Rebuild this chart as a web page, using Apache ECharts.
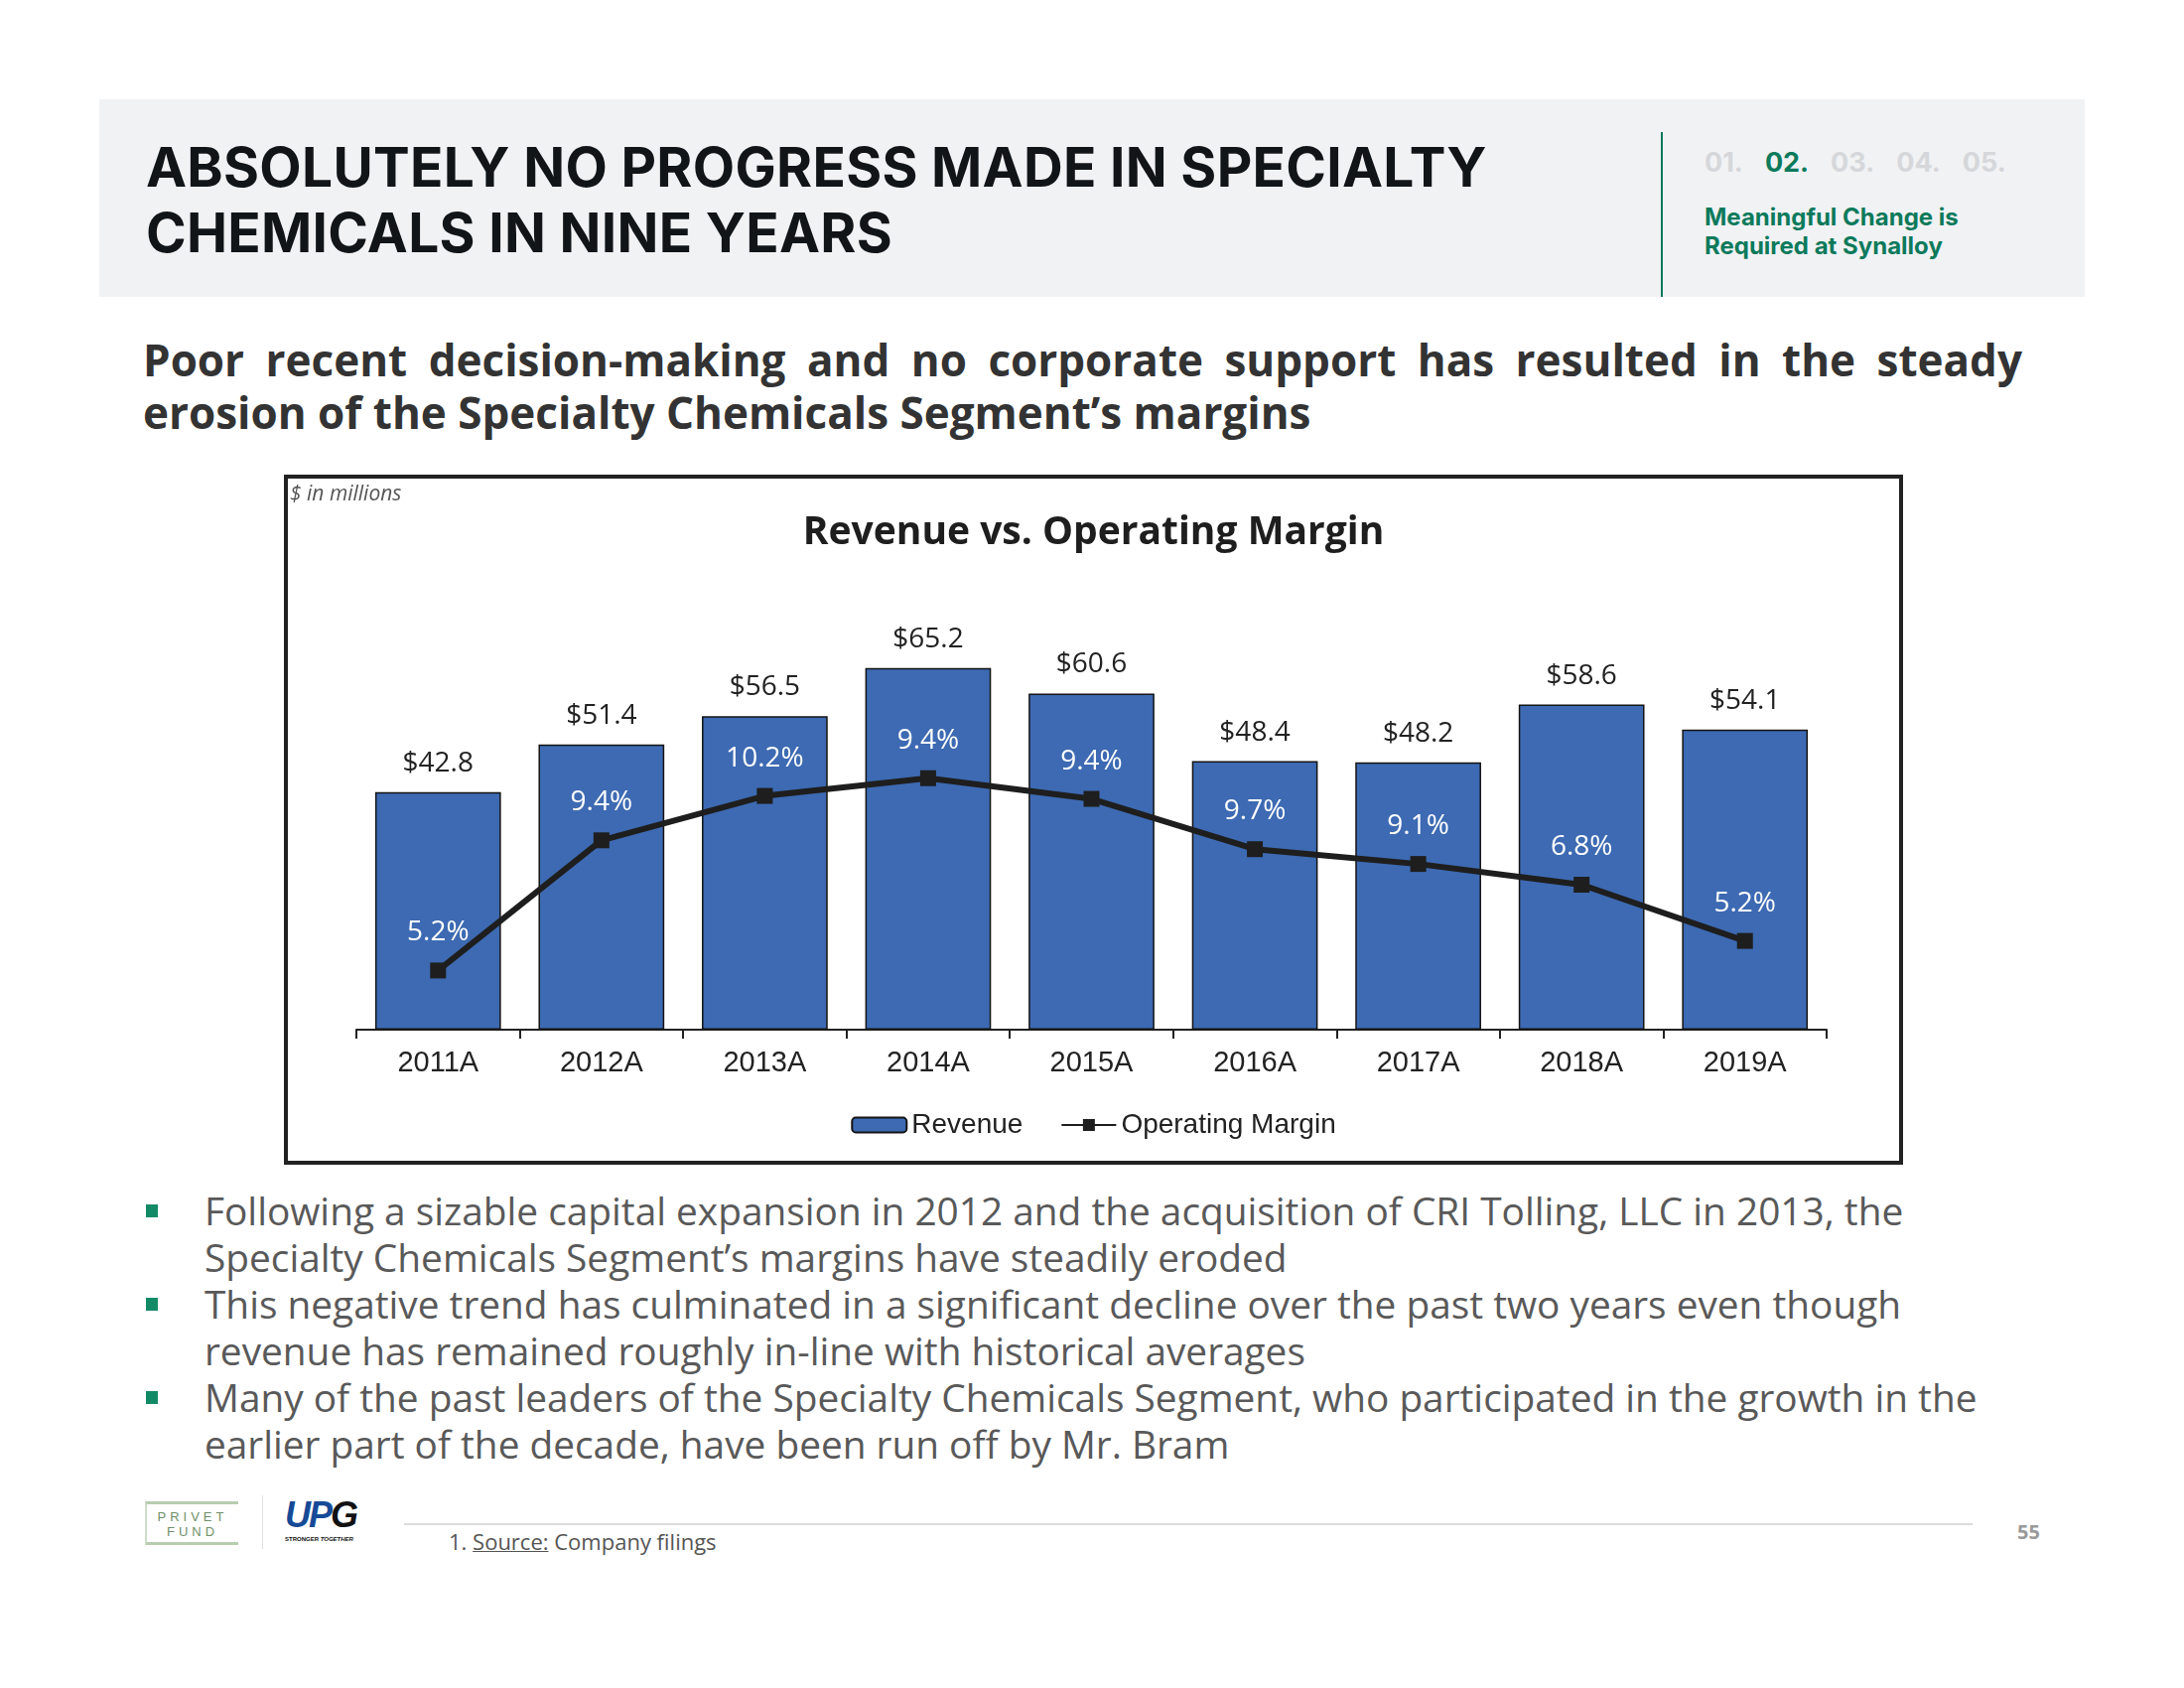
<!DOCTYPE html>
<html>
<head>
<meta charset="utf-8">
<script src="https://cdn.jsdelivr.net/npm/echarts@6/dist/echarts.min.js"></script>
<style>
  html, body { margin: 0; padding: 0; background: #ffffff; }
  body { width: 2200px; height: 1700px; position: relative; overflow: hidden; font-family: "Open Sans", sans-serif; }
  .abs { position: absolute; }
  #header { left: 100px; top: 100px; width: 2000px; height: 199px; background: #f1f2f4; }
  #title { left: 147px; top: 135px; font-family: Inter, "Noto Sans", sans-serif; font-weight: 700; font-size: 55px; line-height: 66px; color: #111518; letter-spacing: 0.3px; white-space: nowrap; }
  #vline { left: 1673px; top: 133px; width: 2px; height: 166px; background: #0c7a5b; }
  #nums { left: 1717px; top: 146px; font-family: Inter, sans-serif; font-weight: 700; font-size: 27px; line-height: 36px; color: #d5d7da; white-space: nowrap; }
  #nums span { margin-right: 22px; }
  #nums .on { color: #0c7a5b; }
  #section { left: 1717px; top: 204px; font-family: Inter, sans-serif; font-weight: 700; font-size: 24px; line-height: 29px; color: #0c7a5b; white-space: nowrap; }
  #subtitle { left: 144px; top: 336px; width: 1893px; font-family: "Open Sans", sans-serif; font-weight: 700; font-size: 44px; line-height: 53px; color: #333333; text-align: justify; text-align-last: left; }
  #chartbox { left: 286px; top: 478px; width: 1623px; height: 687px; border: 4px solid #222222; }
  #chart { width: 1623px; height: 687px; }
  #bullets { left: 147px; top: 1196px; width: 1950px; font-family: "Open Sans", sans-serif; font-size: 38.8px; line-height: 47px; color: #595959; }
  .b { position: relative; padding-left: 59px; white-space: nowrap; }
  .b::before { content: ""; position: absolute; left: 0; top: 17px; width: 12px; height: 13px; background: #138a66; }
  #footline { left: 407px; top: 1534px; width: 1580px; height: 2px; background: #dcdcdc; }
  #source { left: 452px; top: 1538px; font-size: 22px; line-height: 29px; color: #555555; font-family: "Open Sans", sans-serif; }
  #source u { text-decoration-thickness: 1px; }
  #page { left: 2032px; top: 1529px; font-size: 20px; font-weight: 700; color: #9a9a9a; font-family: "Open Sans", sans-serif; }
  #privet { left: 146px; top: 1512px; width: 94px; height: 44px; border-top: 3px solid #b7cdb0; border-bottom: 3px solid #b7cdb0; border-left: 2px solid #cfdccb; box-sizing: border-box; text-align: center; font-family: "Liberation Sans", sans-serif; font-size: 13px; letter-spacing: 4px; line-height: 15px; color: #6f8f68; padding-top: 5px; }
  #logosep { left: 264px; top: 1506px; width: 1px; height: 54px; background: #e0e0e0; }
  #upg { left: 287px; top: 1509px; font-family: "Liberation Sans", sans-serif; font-weight: 700; font-style: italic; font-size: 36px; line-height: 34px; color: #164a97; letter-spacing: -2px; }
  #upg .g { color: #111; }
  #upgsub { left: 287px; top: 1547px; font-family: "Liberation Sans", sans-serif; font-weight: 700; font-size: 6px; color: #111; white-space: nowrap; }
</style>
</head>
<body>
<div id="header" class="abs"></div>
<div id="title" class="abs">ABSOLUTELY NO PROGRESS MADE IN SPECIALTY<br>CHEMICALS IN NINE YEARS</div>
<div id="vline" class="abs"></div>
<div id="nums" class="abs"><span>01.</span><span class="on">02.</span><span>03.</span><span>04.</span><span>05.</span></div>
<div id="section" class="abs">Meaningful Change is<br>Required at Synalloy</div>
<div id="subtitle" class="abs">Poor recent decision-making and no corporate support has resulted in the steady erosion of the Specialty Chemicals Segment’s margins</div>
<div id="chartbox" class="abs"><div id="chart"></div></div>
<div id="bullets" class="abs">
  <div class="b">Following a sizable capital expansion in 2012 and the acquisition of CRI Tolling, LLC in 2013, the<br>Specialty Chemicals Segment’s margins have steadily eroded</div>
  <div class="b">This negative trend has culminated in a significant decline over the past two years even though<br>revenue has remained roughly in-line with historical averages</div>
  <div class="b">Many of the past leaders of the Specialty Chemicals Segment, who participated in the growth in the<br>earlier part of the decade, have been run off by Mr. Bram</div>
</div>
<div id="privet" class="abs">PRIVET<br>FUND</div>
<div id="logosep" class="abs"></div>
<div id="upg" class="abs">UP<span class="g">G</span></div>
<div id="upgsub" class="abs">STRONGER <i>TOGETHER</i></div>
<div id="footline" class="abs"></div>
<div id="source" class="abs">1. <u>Source:</u> Company filings</div>
<div id="page" class="abs">55</div>

<script>
// ---- data ----
var categories = ['2011A', '2012A', '2013A', '2014A', '2015A', '2016A', '2017A', '2018A', '2019A'];
var revenue = [42.8, 51.4, 56.5, 65.2, 60.6, 48.4, 48.2, 58.6, 54.1];
var marginValues = [5.0, 9.4, 10.9, 11.5, 10.8, 9.1, 8.6, 7.9, 6.0];
var marginLabels = ['5.2%', '9.4%', '10.2%', '9.4%', '9.4%', '9.7%', '9.1%', '6.8%', '5.2%'];
var chartTitle = 'Revenue vs. Operating Margin';
var unitNote = '$ in millions';

var chart = echarts.init(document.getElementById('chart'), null, { renderer: 'canvas' });
chart.setOption({
  animation: false,
  backgroundColor: '#ffffff',
  title: [
    { text: chartTitle, left: 'center', top: 30,
      textStyle: { fontFamily: 'Open Sans', fontWeight: 'bold', fontSize: 39, color: '#1e1e1e' } },
    { text: unitNote, left: 0, top: 4, padding: [2, 2],
      textStyle: { fontFamily: 'Open Sans', fontStyle: 'italic', fontWeight: 'normal', fontSize: 21, color: '#555555' } }
  ],
  legend: {
    data: ['Revenue', 'Operating Margin'],
    left: 'center', top: 632,
    itemWidth: 55, itemHeight: 15, itemGap: 38,
    textStyle: { fontFamily: 'Liberation Sans', fontSize: 28, color: '#222222' }
  },
  grid: { left: 69, right: 73, top: 108, bottom: 132 },
  xAxis: {
    type: 'category', data: categories,
    axisLine: { lineStyle: { color: '#222222', width: 2 } },
    axisTick: { show: true, length: 9, lineStyle: { color: '#222222', width: 2 } },
    axisLabel: { fontFamily: 'Liberation Sans', fontSize: 29, color: '#222222', margin: 19 }
  },
  yAxis: [
    { type: 'value', min: 0, max: 80, show: false, splitLine: { show: false } },
    { type: 'value', min: 3, max: 18, show: false, splitLine: { show: false } }
  ],
  series: [
    { name: 'Revenue', type: 'bar', data: revenue, barCategoryGap: '23%', z: 2,
      itemStyle: { color: '#3d6ab2', borderColor: '#141414', borderWidth: 1.5 },
      label: { show: true, position: 'top', distance: 15, fontFamily: 'Open Sans', fontSize: 28, color: '#222222',
        formatter: function (p) { return '$' + p.value.toFixed(1); } } },
    { name: 'Operating Margin', type: 'line', yAxisIndex: 1, data: marginValues, z: 5,
      symbol: 'rect', symbolSize: 16,
      lineStyle: { color: '#1e1e1e', width: 6 },
      itemStyle: { color: '#1e1e1e' },
      label: { show: true, position: 'top', distance: 16, fontFamily: 'Open Sans', fontSize: 28, color: '#ffffff',
        formatter: function (p) { return marginLabels[p.dataIndex]; } } }
  ]
});
</script>
</body>
</html>
